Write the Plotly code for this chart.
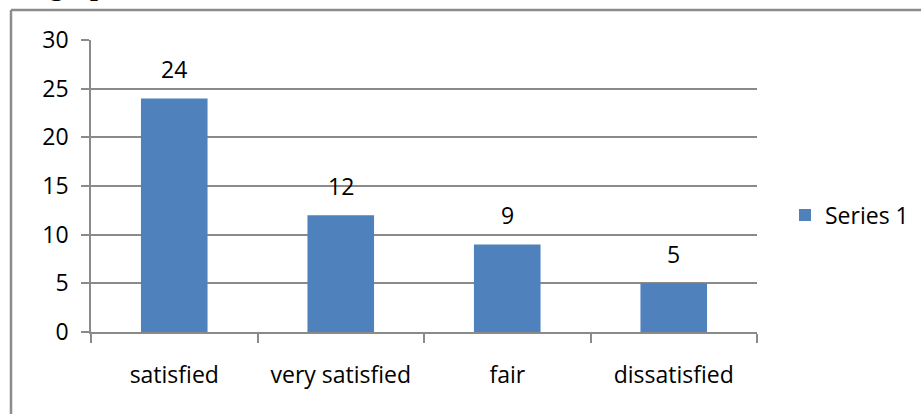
import plotly.graph_objects as go

# Survey responses
categories = ["satisfied", "very satisfied", "fair", "dissatisfied"]
counts = [24, 12, 9, 5]
series_name = "Series 1"
y_ticks = [0, 5, 10, 15, 20, 25, 30]

W, H = 921, 414
L, R, T, B = 91, 164, 40, 82
pw, ph = W - L - R, H - T - B

def px(x):
    return (x - L) / pw

def py(y):
    return (H - B - y) / ph

FONT = "Open Sans"
FS = 23
GRID = "#8a8a8a"

fig = go.Figure()
fig.add_trace(go.Bar(
    x=categories,
    y=counts,
    name=series_name,
    marker=dict(color="#4F81BD", line=dict(width=0)),
    showlegend=True,
))

# value labels above each bar
value_labels = [
    dict(x=c, y=v, xref="x", yref="y", text=str(v), showarrow=False,
         xanchor="center", yanchor="bottom", yshift=11,
         font=dict(family=FONT, size=FS, color="#000000"))
    for c, v in zip(categories, counts)
]

fig.update_layout(
    width=W, height=H,
    margin=dict(l=L, r=R, t=T, b=B, autoexpand=False),
    paper_bgcolor="white",
    plot_bgcolor="white",
    bargap=0.6,
    font=dict(family=FONT, size=FS, color="#000000"),
    showlegend=True,
    legend=dict(
        x=px(785), y=py(215), xanchor="left", yanchor="middle",
        font=dict(family=FONT, size=FS, color="#000000"),
        bgcolor="rgba(0,0,0,0)",
        itemwidth=30,
    ),
    xaxis=dict(
        type="category",
        showline=True, linecolor=GRID, linewidth=1.5,
        ticks="outside", tickson="boundaries", ticklen=9,
        tickcolor=GRID, tickwidth=1.5,
        showgrid=False,
        tickfont=dict(family=FONT, size=FS),
        ticklabelstandoff=22,
    ),
    yaxis=dict(
        range=[0, 30],
        tickvals=y_ticks,
        showline=True, linecolor=GRID, linewidth=1.5,
        ticks="outside", ticklen=8, tickcolor=GRID, tickwidth=1.5,
        showgrid=True, gridcolor=GRID, gridwidth=1.5,
        zeroline=False,
        tickfont=dict(family=FONT, size=FS),
        ticklabelstandoff=8,
    ),
    shapes=[
        # outer chart frame (top and left edges)
        dict(type="line", xref="paper", yref="paper",
             x0=px(11), y0=py(10), x1=px(925), y1=py(10),
             line=dict(color="#8c8c8c", width=2.5)),
        dict(type="line", xref="paper", yref="paper",
             x0=px(11), y0=py(10), x1=px(11), y1=py(420),
             line=dict(color="#8c8c8c", width=2.5)),
    ],
    annotations=value_labels + [
        dict(text="<b>Bar graph</b>", xref="paper", yref="paper",
             x=px(-4), y=py(-14), xanchor="left", yanchor="middle",
             showarrow=False,
             font=dict(family="Liberation Serif", size=28, color="#000000")),
    ],
)

fig.write_html("out.html")
